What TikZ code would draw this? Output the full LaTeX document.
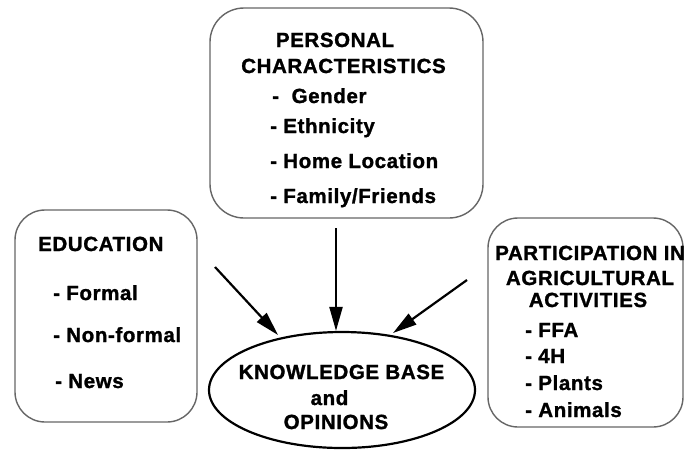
\documentclass[tikz,border=0pt]{standalone}
\usepackage{fontspec}
\setmainfont[LetterSpace=3,BoldFeatures={FakeBold=1.3}]{Liberation Sans}
\usetikzlibrary{shapes.geometric,arrows.meta}
\begin{document}
\begin{tikzpicture}[x=1pt,y=-1pt,
  box/.style={draw=black!60,line width=1.4pt,rounded corners=34pt,inner sep=0pt,minimum width=#1},
  txt/.style={inner sep=0pt,font=\fontsize{20.5}{24}\selectfont\bfseries},
  arr/.style={line width=2.2pt,-{Triangle[length=24pt,width=13pt]}}]
\clip (0,0) rectangle (685,451);
\fill[white] (0,0) rectangle (685,451);
% boxes
\node[box=273pt,minimum height=210pt] (pers) at (346.5,113) {};
\node[box=182pt,minimum height=212pt,rounded corners=30pt] (edu) at (106,316) {};
\node[box=195pt,minimum height=209pt,rounded corners=30pt] (part) at (585.5,322.5) {};
\node[draw,line width=2.2pt,ellipse,minimum width=266pt,minimum height=116pt,inner sep=0pt] (kb) at (342,390) {};
% personal characteristics
\node[txt,anchor=base] (p1) at (335,47) {PERSONAL};
\node[txt,anchor=base] (p2) at (343.5,73) {CHARACTERISTICS};
\node[txt,anchor=base west] (p3) at (272,103) {-~~Gender};
\node[txt,anchor=base west] (p4) at (270,133) {- Ethnicity};
\node[txt,anchor=base west] (p5) at (270,168) {- Home Location};
\node[txt,anchor=base west] (p6) at (270,203) {- Family/Friends};
% education
\node[txt,anchor=base west] (e1) at (38,251) {EDUCATION};
\node[txt,anchor=base west] (e2) at (53,300) {- Formal};
\node[txt,anchor=base west] (e3) at (53,342) {- Non-formal};
\node[txt,anchor=base west] (e4) at (55,388) {- News};
% participation
\node[txt,anchor=base west] (r1) at (495,260) {PARTICIPATION IN};
\node[txt,anchor=base] (r2) at (590,285) {AGRICULTURAL};
\node[txt,anchor=base] (r3) at (588,307) {ACTIVITIES};
\node[txt,anchor=base west] (r4) at (525,337) {- FFA};
\node[txt,anchor=base west] (r5) at (525,363) {- 4H};
\node[txt,anchor=base west] (r6) at (525,390) {- Plants};
\node[txt,anchor=base west] (r7) at (525,417) {- Animals};
% knowledge base
\node[txt,anchor=base] (k1) at (341.5,379) {KNOWLEDGE BASE};
\node[txt,anchor=base] (k2) at (329.5,405) {and};
\node[txt,anchor=base] (k3) at (336,429) {OPINIONS};
% arrows
\coordinate (a1) at (215,267);
\coordinate (a2) at (336,228);
\coordinate (a3) at (467,280);
\coordinate (t1) at (278,335);
\coordinate (t3) at (393,333);
\draw[arr] (a1) -- (t1);
\draw[arr] (a2) -- (a2 |- kb.north);
\draw[arr] (a3) -- (t3);
\end{tikzpicture}
\end{document}
